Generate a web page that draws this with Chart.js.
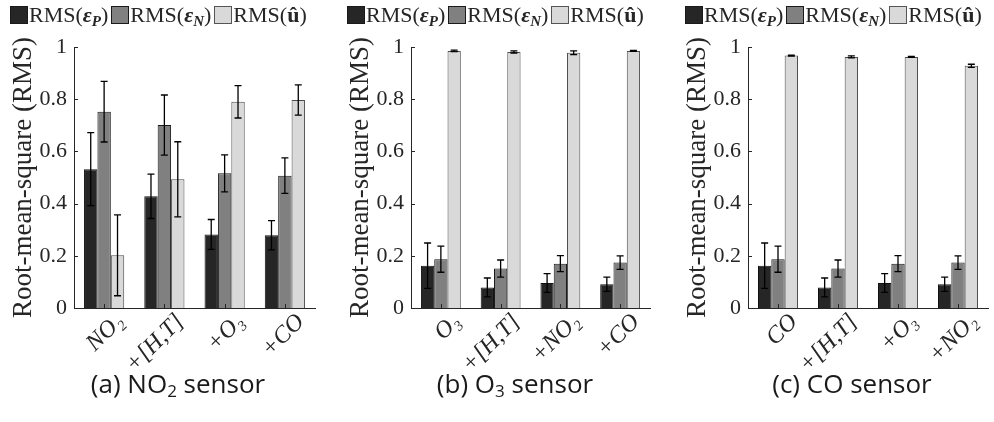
<!DOCTYPE html>
<html><head><meta charset="utf-8">
<script src="https://cdn.jsdelivr.net/npm/chart.js@4"></script>
<style>
body{margin:0;width:994px;height:422px;background:#fff;position:relative;overflow:hidden;font-family:'Liberation Serif',serif;color:#262626}
canvas{position:absolute;top:0}
.legend{position:absolute;top:3px;font-size:22px;white-space:nowrap;display:flex;align-items:center;line-height:24px}
.sw{display:inline-block;width:16px;height:16px;border:1px solid #1a1a1a;margin-right:1px}
.item{display:flex;align-items:center;margin-right:3px}
.cap{position:absolute;top:365px;width:330px;text-align:center;font-family:'Open Sans',sans-serif;font-size:26px;color:#1a1a1a}
.cap sub{font-size:17px;vertical-align:-4px;line-height:0}
.legend sub{font-size:15px;vertical-align:-4px;line-height:0}
</style></head>
<body>
<canvas id="ca" width="330" height="422" style="left:0px"></canvas>
<canvas id="cb" width="330" height="422" style="left:330px"></canvas>
<canvas id="cc" width="334" height="422" style="left:660px"></canvas>

<div class="legend" style="left:10px" id="la"></div>
<div class="legend" style="left:347px" id="lb"></div>
<div class="legend" style="left:685px" id="lc"></div>

<div class="cap" style="left:13px">(a) NO<sub>2</sub> sensor</div>
<div class="cap" style="left:350px">(b) O<sub>3</sub> sensor</div>
<div class="cap" style="left:687px">(c) CO sensor</div>

<script>
// ---- data ----
const seriesNames = ['RMS(εP)', 'RMS(εN)', 'RMS(û)'];
const seriesColors = ['#262626', '#808080', '#d9d9d9'];
const seriesBorders = ['#111111', '#1a1a1a', '#4d4d4d'];

const catsA = ['NO₂', '+[H,T]', '+O₃', '+CO'];
const aP = [0.532, 0.428, 0.282, 0.279];
const aPerr = [0.140, 0.085, 0.057, 0.056];
const aN = [0.752, 0.701, 0.516, 0.507];
const aNerr = [0.116, 0.115, 0.071, 0.068];
const aU = [0.202, 0.493, 0.790, 0.797];
const aUerr = [0.155, 0.144, 0.062, 0.058];

const catsB = ['O₃', '+[H,T]', '+NO₂', '+CO'];
const bP = [0.162, 0.079, 0.096, 0.091];
const bPerr = [0.087, 0.036, 0.036, 0.027];
const bN = [0.187, 0.151, 0.170, 0.174];
const bNerr = [0.050, 0.033, 0.031, 0.026];
const bU = [0.985, 0.981, 0.978, 0.985];
const bUerr = [0.003, 0.004, 0.007, 0.002];

const catsC = ['CO', '+[H,T]', '+O₃', '+NO₂'];
const cP = [0.162, 0.079, 0.096, 0.091];
const cPerr = [0.087, 0.036, 0.036, 0.027];
const cN = [0.187, 0.151, 0.170, 0.174];
const cNerr = [0.050, 0.033, 0.031, 0.026];
const cU = [0.967, 0.962, 0.962, 0.928];
const cUerr = [0.002, 0.004, 0.002, 0.006];

const yTicks = [0, 0.2, 0.4, 0.6, 0.8, 1];
const yTitle = 'Root-mean-square (RMS)';

// ---- legends (HTML rich text) ----
const legendHTML =
  '<span class="item"><span class="sw" style="background:' + seriesColors[0] + '"></span>RMS(<b><i>ε<sub>P</sub></i></b>)</span>' +
  '<span class="item"><span class="sw" style="background:' + seriesColors[1] + '"></span>RMS(<b><i>ε<sub>N</sub></i></b>)</span>' +
  '<span class="item"><span class="sw" style="background:' + seriesColors[2] + ';border-color:#555"></span>RMS(<b>û</b>)</span>';
['la','lb','lc'].forEach(id => document.getElementById(id).innerHTML = legendHTML);

const INK = '#262626';
const SERIF = "'Liberation Serif', 'Times New Roman', serif";
Chart.defaults.font.family = SERIF;

const errorBars = {
  id: 'errorBars',
  afterDatasetsDraw(chart) {
    const ctx = chart.ctx, ys = chart.scales.y;
    chart.data.datasets.forEach((ds, d) => {
      const meta = chart.getDatasetMeta(d);
      meta.data.forEach((bar, i) => {
        const v = ds.data[i], e = ds.err[i];
        const yt = ys.getPixelForValue(v + e), yb = ys.getPixelForValue(v - e);
        ctx.save();
        ctx.strokeStyle = '#000';
        ctx.lineWidth = 1.3;
        ctx.beginPath();
        ctx.moveTo(bar.x, yt); ctx.lineTo(bar.x, yb);
        ctx.moveTo(bar.x - 3.5, yt); ctx.lineTo(bar.x + 3.5, yt);
        ctx.moveTo(bar.x - 3.5, yb); ctx.lineTo(bar.x + 3.5, yb);
        ctx.stroke();
        ctx.restore();
      });
    });
  }
};

const innerTicks = {
  id: 'innerTicks',
  afterDraw(chart) {
    const ctx = chart.ctx, a = chart.chartArea;
    const ys = chart.scales.y, xs = chart.scales.x;
    ctx.save();
    ctx.strokeStyle = INK; ctx.lineWidth = 1;
    ctx.beginPath();
    ys.ticks.forEach((t, i) => {
      const y = Math.round(ys.getPixelForTick(i)) + 0.5;
      ctx.moveTo(a.left, y); ctx.lineTo(a.left + 4, y);
    });
    xs.ticks.forEach((t, i) => {
      const x = Math.round(xs.getPixelForTick(i)) + 0.5;
      ctx.moveTo(x, a.bottom); ctx.lineTo(x, a.bottom - 4);
    });
    ctx.stroke();
    ctx.restore();
  }
};

function makeChart(id, cats, vals, errs, yWidth, padRight) {
  const titleSize = 27;
  const lh = titleSize * 1.2;
  const titleCenter = yWidth - 50;
  return new Chart(document.getElementById(id), {
    type: 'bar',
    data: {
      labels: cats,
      datasets: vals.map((v, k) => ({
        label: seriesNames[k],
        data: v,
        err: errs[k],
        backgroundColor: seriesColors[k],
        borderColor: seriesBorders[k],
        borderWidth: 1,
        barPercentage: 1,
        categoryPercentage: 0.667
      }))
    },
    options: {
      responsive: false,
      animation: false,
      layout: { padding: { left: 0, right: padRight, top: 47, bottom: 0 } },
      plugins: { legend: { display: false }, tooltip: { enabled: false } },
      scales: {
        x: {
          grid: { display: false, drawTicks: false },
          border: { display: true, color: INK, width: 1 },
          ticks: {
            minRotation: 45, maxRotation: 45, padding: 0, labelOffset: 16, color: INK,
            font: { family: SERIF, style: 'italic', size: 24 }
          },
          afterFit(s) { s.height = 114; }
        },
        y: {
          min: 0, max: 1,
          grid: { display: false, drawTicks: false },
          border: { display: true, color: INK, width: 1 },
          afterBuildTicks(s) { s.ticks = yTicks.map(v => ({ value: v })); },
          ticks: {
            padding: 7, color: INK,
            font: { family: SERIF, size: 22 },
            callback: v => String(v)
          },
          title: {
            display: true, text: yTitle, color: INK,
            font: { family: SERIF, size: titleSize },
            padding: { top: titleCenter - lh / 2, bottom: 0 }
          },
          afterFit(s) { s.width = yWidth; }
        }
      }
    },
    plugins: [errorBars, innerTicks]
  });
}

makeChart('ca', catsA, [aP, aN, aU], [aPerr, aNerr, aUerr], 74, 15);
makeChart('cb', catsB, [bP, bN, bU], [bPerr, bNerr, bUerr], 81, 10);
makeChart('cc', catsC, [cP, cN, cU], [cPerr, cNerr, cUerr], 88, 6);
</script>
</body></html>
